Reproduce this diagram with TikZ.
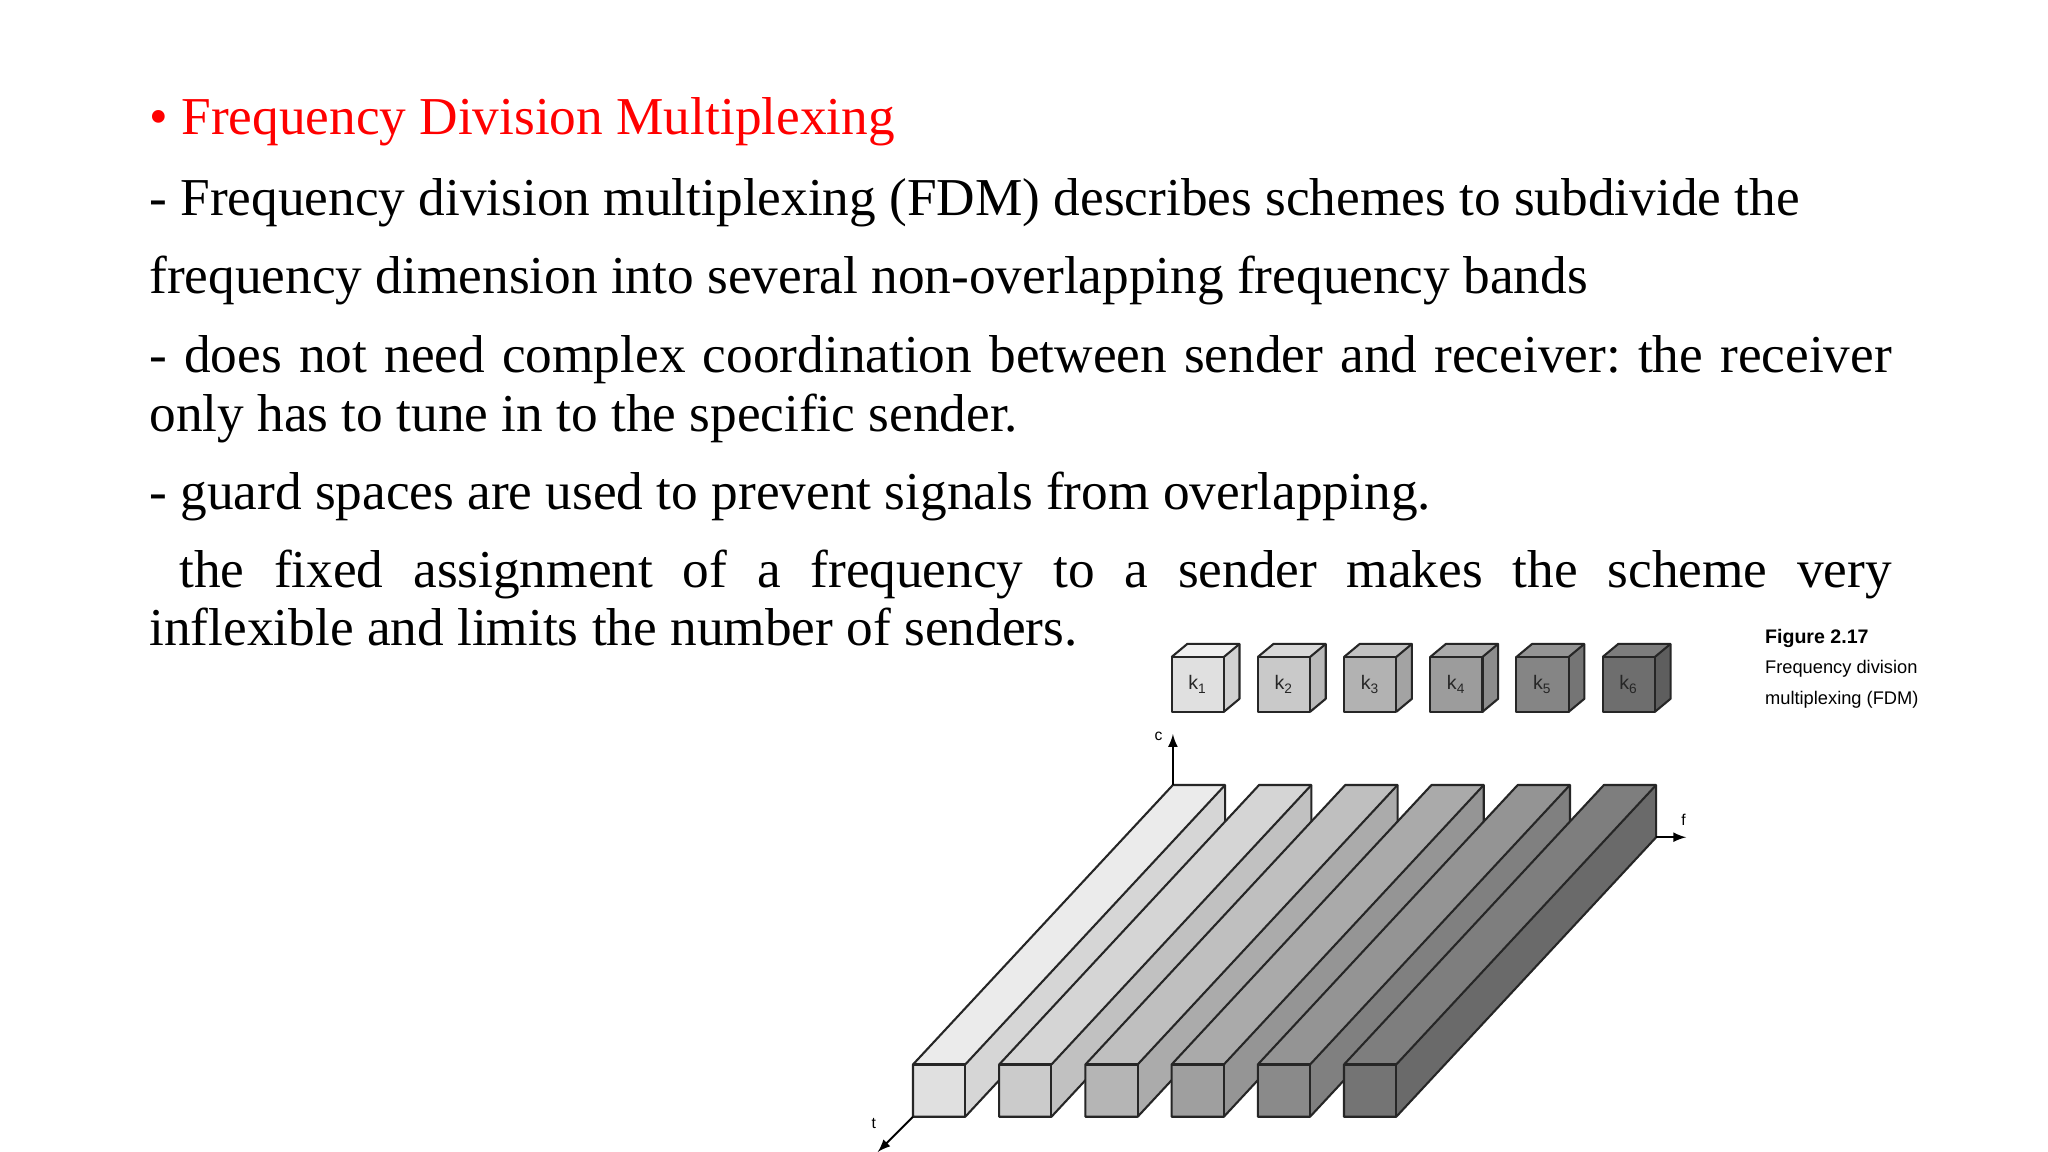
\documentclass[tikz,border=0pt]{standalone}
\usepackage{fontspec}
\setmainfont{Liberation Serif}
\newfontfamily\capfont{Liberation Sans}
\begin{document}
\begin{tikzpicture}[x=0.5pt,y=-0.5pt,
  body/.style={anchor=base west,inner sep=0pt,font=\fontsize{20.4pt}{24pt}\selectfont},
  captext/.style={anchor=base west,inner sep=0pt,font=\capfont\fontsize{7pt}{8pt}\selectfont},
  ax/.style={line width=0.7pt,-latex},
  edge/.style={line width=0.8pt,draw=black!85,line join=round}]
\useasboundingbox[fill=white] (0,0) rectangle (1568,882);
\node[body,text=red] (title) at (114,103) {\textbullet\ Frequency Division Multiplexing};
\node[body] (l1) at (114,165) {- Frequency division multiplexing (FDM) describes schemes to subdivide the};
\node[body] (l2) at (114,225) {frequency dimension into several non-overlapping frequency bands};
\node[body] (l3) at (114,285) {\makebox[667pt][s]{- does not need complex coordination between sender and receiver:\ the receiver}};
\node[body] (l4) at (114,330) {only has to tune in to the specific sender.};
\node[body] (l5) at (114,390) {- guard spaces are used to prevent signals from overlapping.};
\node[body] (l6) at (114,450) {\makebox[667pt][s]{\ the fixed assignment of a frequency to a sender makes the scheme very}};
\node[body] (l7) at (114,494) {inflexible and limits the number of senders.};
% caption
\node[captext,font=\capfont\bfseries\fontsize{7.5pt}{8pt}\selectfont] (fig) at (1351,493) {Figure 2.17};
\node[captext] (c1) at (1351,516) {Frequency division};
\node[captext] (c2) at (1351,539) {multiplexing (FDM)};
% cubes
\foreach \i in {1,...,6}{
  \pgfmathsetmacro{\sh}{12+(\i-1)*9}
  \pgfmathsetmacro{\st}{6+(\i-1)*9}
  \pgfmathsetmacro{\ss}{18+(\i-1)*9}
  \pgfmathsetmacro{\xx}{897+(\i-1)*66}
  \fill[black!\sh] (\xx,503) rectangle ++(40,42);
  \fill[black!\st] (\xx,503) -- ++(12,-10) -- ++(40,0) -- ++(-12,10) -- cycle;
  \fill[black!\ss] (\xx+40,503) -- ++(12,-10) -- ++(0,42) -- ++(-12,10) -- cycle;
  \draw[edge] (\xx,503) rectangle ++(40,42);
  \draw[edge] (\xx,503) -- ++(12,-10) -- ++(40,0) -- ++(0,42) -- ++(-12,10);
  \draw[edge] (\xx+40,503) -- ++(12,-10);
  \node[font=\capfont\fontsize{7.5pt}{8pt}\selectfont,text=black!85] (k\i) at (\xx+20,524) {k\textsubscript{\i}};
}
% bars
\foreach \i in {1,...,6}{
  \pgfmathsetmacro{\sf}{12+(\i-1)*8.5}
  \pgfmathsetmacro{\st}{8+(\i-1)*8.5}
  \pgfmathsetmacro{\ss}{16+(\i-1)*8.5}
  \pgfmathsetmacro{\xx}{699+(\i-1)*66}
  \fill[black!\st] (\xx,815) -- ++(199,-214) -- ++(40,0) -- ++(-199,214) -- cycle;
  \fill[black!\ss] (\xx+40,815) -- ++(199,-214) -- ++(0,40) -- ++(-199,214) -- cycle;
  \fill[black!\sf] (\xx,815) rectangle ++(40,40);
  \draw[edge] (\xx,855) -- ++(0,-40) -- ++(199,-214) -- ++(40,0) -- ++(0,40) -- ++(-199,214) -- cycle;
  \draw[edge] (\xx,815) -- ++(40,0) -- ++(0,40);
  \draw[edge] (\xx+40,815) -- ++(199,-214);
}
\coordinate (co) at (898,601);
\coordinate (ce) at (898,562);
\coordinate (fo) at (1268,641);
\coordinate (fe) at (1291,641);
\coordinate (to) at (699,855);
\coordinate (te) at (672,882);
\draw[ax] (co) -- (ce);
\draw[ax] (fo) -- (fe);
\draw[ax] (to) -- (te);
\node[font=\capfont\fontsize{6pt}{7pt}\selectfont] (cl) at (887,564) {c};
\node[font=\capfont\fontsize{6pt}{7pt}\selectfont] (fl) at (1289,628) {f};
\node[font=\capfont\fontsize{6pt}{7pt}\selectfont] (tl) at (669,860) {t};
\end{tikzpicture}
\end{document}
